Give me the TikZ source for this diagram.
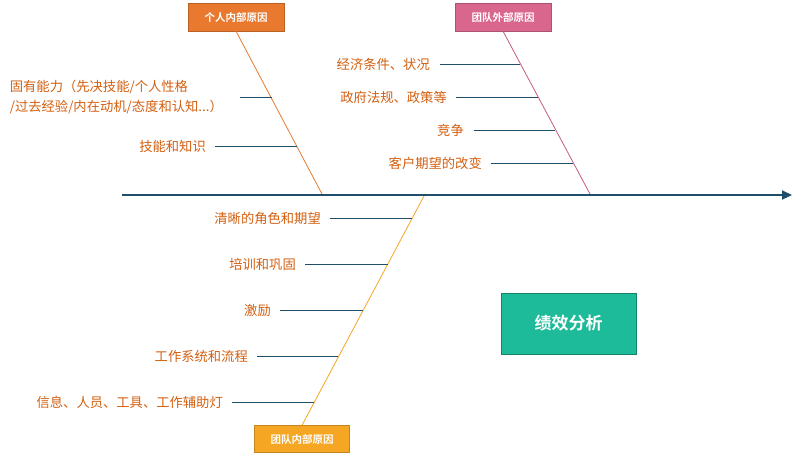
\documentclass[tikz,border=0pt]{standalone}
\usepackage{fontspec}
\setmainfont{Noto Sans CJK SC}[BoldFont={Noto Sans CJK SC Bold}]
\usetikzlibrary{arrows.meta}
\definecolor{spine}{HTML}{1F4E6B}
\definecolor{lbl}{HTML}{D35F10}
\definecolor{orangebox}{HTML}{E8792F}
\definecolor{pinkbox}{HTML}{D9668C}
\definecolor{yelbox}{HTML}{F5A623}
\definecolor{greenbox}{HTML}{1EBB9A}
\tikzset{
  catbox/.style={draw=#1!80!black, fill=#1, text=white, minimum width=96pt, minimum height=28pt, inner sep=0pt, font=\fontsize{10.5}{12}\selectfont\bfseries},
  bone/.style={draw=spine, line width=1pt},
  lab/.style={text=lbl, anchor=east, font=\fontsize{13.3}{20}\selectfont, inner sep=0pt, align=left}
}
\begin{document}
\begin{tikzpicture}[x=1pt,y=-1pt]
\useasboundingbox (0,0) rectangle (800,453);
\coordinate (s0) at (122,195);
\coordinate (s1) at (792,195);
\draw[spine, line width=2.2pt, -{Triangle[length=10pt,width=9pt]}] (s0) -- (s1);
\node[catbox=orangebox] (c1) at (236,17) {个人内部原因};
\node[catbox=pinkbox] (c2) at (503,17) {团队外部原因};
\node[catbox=yelbox, minimum width=95pt, minimum height=27pt] (c3) at (302,439) {团队内部原因};
\coordinate (e1) at (322,194);
\coordinate (e2) at (590,194);
\coordinate (e3) at (424,196);
\draw[orangebox, line width=0.8pt] (c1.south) -- (e1);
\draw[pinkbox!90!black, line width=0.8pt] (c2.south) -- (e2);
\draw[yelbox, line width=0.8pt] (c3.north) -- (e3);
\node[draw=greenbox!70!black, fill=greenbox, text=white, minimum width=135pt, minimum height=61pt, font=\fontsize{17}{20}\selectfont\bfseries] (g) at (568.5,323.5) {绩效分析};
\foreach \n/\xa/\xb/\y in {
 a/240/272/97, b/215/297/146, c/440/520/64, d/456/538/97, e/474/555/130,
 f/491/573/163, g/330/412/218, h/305/388/264, i/280/363/310, j/257/338/356, k/232/314/402}{
  \coordinate (\n1) at (\xa,\y);
  \coordinate (\n2) at (\xb,\y);
  \draw[bone] (\n1) -- (\n2);
}
\node[lab] (ta) at (223,97) {固有能力（先决技能/个人性格\\/过去经验/内在动机/态度和认知...）};
\node[lab] (tb) at (206,146) {技能和知识};
\node[lab] (tc) at (430,64) {经济条件、状况};
\node[lab] (td) at (447,97) {政府法规、政策等};
\node[lab] (te) at (464,130) {竞争};
\node[lab] (tf) at (482,163) {客户期望的改变};
\node[lab] (tg) at (321,218) {清晰的角色和期望};
\node[lab] (th) at (296,264) {培训和巩固};
\node[lab] (ti) at (271,310) {激励};
\node[lab] (tj) at (248,356) {工作系统和流程};
\node[lab] (tk) at (223,402) {信息、人员、工具、工作辅助灯};
\end{tikzpicture}
\end{document}
